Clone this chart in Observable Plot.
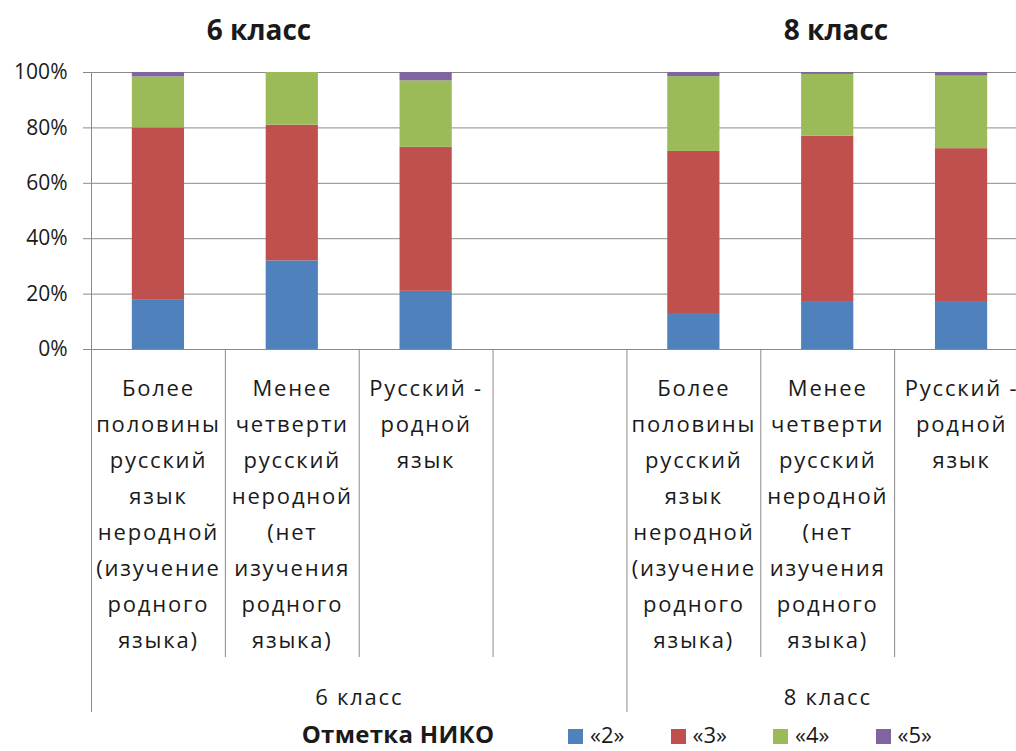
<!DOCTYPE html>
<html>
<head>
<meta charset="utf-8">
<script src="https://cdn.jsdelivr.net/npm/d3@7"></script>
<script src="https://cdn.jsdelivr.net/npm/@observablehq/plot@0.6"></script>
<style>
  html, body { margin: 0; padding: 0; background: #fff; overflow: hidden; }
  #wrap { position: relative; width: 1016px; height: 751px; overflow: hidden; font-family: "Open Sans", sans-serif; color: #1a1a1a; }
  #chart { position: absolute; left: 0; top: 0; width: 1040px; }
  #chart svg { max-width: none !important; }
  #chart svg g[aria-label="text"] text { letter-spacing: 1.8px; }
  .title { position: absolute; top: 15px; line-height: 1; font-weight: 700; font-size: 28px; transform: translateX(-50%); white-space: nowrap; }
  .ltitle { position: absolute; left: 398px; top: 722px; line-height: 1; transform: translateX(-50%); font-weight: 700; font-size: 24px; letter-spacing: 0.3px; white-space: nowrap; }
  .item { position: absolute; top: 723px; line-height: 1; font-size: 22px; white-space: nowrap; }
  .sw { display: inline-block; width: 15px; height: 15px; vertical-align: -1px; margin-right: 7px; }
</style>
</head>
<body>
<div id="wrap">
  <div id="chart"></div>
  <div class="title" style="left:259px">6 класс</div>
  <div class="title" style="left:836px">8 класс</div>
</div>
<script>
// ---- data ----
const groups = ["6 класс", "8 класс"];
const categories = [
  "Более\nполовины\nрусский\nязык\nнеродной\n(изучение\nродного\nязыка)",
  "Менее\nчетверти\nрусский\nнеродной\n(нет\nизучения\nродного\nязыка)",
  "Русский -\nродной\nязык"
];
const grades = ["«2»", "«3»", "«4»", "«5»"];
const colors = ["#4F81BD", "#C0504D", "#9BBB59", "#8064A2"];
// per bar: 6 класс (3 categories), 8 класс (3 categories), in %
const barGroup = [0, 0, 0, 1, 1, 1];
const barCategory = [0, 1, 2, 0, 1, 2];
const grade2 = [18, 32, 21, 13, 17, 17];
const grade3 = [62, 49, 52, 58.5, 60, 55.5];
const grade4 = [18.4, 19, 24, 27, 22.3, 26.2];
const grade5 = [1.6, 0, 3, 1.5, 0.7, 1.3];
const yTicks = [0, 20, 40, 60, 80, 100];
// slots per group: 6 класс has an empty 4th slot
const groupSlots = [4, 3];
const legendTitle = "Отметка НИКО";

// ---- derived ----
const groupStart = [0, groupSlots[0]];
const totalSlots = groupSlots[0] + groupSlots[1];
const seriesVals = [grade2, grade3, grade4, grade5];
const barSlot = barGroup.map((g, i) => groupStart[g] + barCategory[i]);
const rects = [];
barSlot.forEach((slot, i) => {
  let acc = 0;
  seriesVals.forEach((vals, s) => {
    const v = vals[i];
    rects.push({slot, grade: grades[s], y1: acc, y2: acc + v});
    acc += v;
  });
});
const labels = barSlot.map((slot, i) => ({slot, text: categories[barCategory[i]]}));
const groupLabels = groups.map((g, i) => ({x: groupStart[i] + groupSlots[i] / 2, text: g}));
const innerSeps = [];
groups.forEach((g, i) => { for (let k = 1; k < groupSlots[i]; k++) innerSeps.push(groupStart[i] + k); });
const groupSeps = [0, groupStart[1], totalSlots];

const barHalf = 0.195; // bar half-width in slot units
const sepInner = -111.2; // extent below baseline, in y units
const sepGroup = -131;
const gray = "#8a8a8a";

const chart = Plot.plot({
  width: 1040,
  height: 751,
  marginLeft: 91,
  marginRight: 12,
  marginTop: 72,
  marginBottom: 402,
  style: {fontFamily: "'Open Sans', sans-serif", color: "#1a1a1a", background: "#fff", overflow: "visible", maxWidth: "none"},
  x: {domain: [0, totalSlots], axis: null},
  y: {domain: [0, 100]},
  color: {domain: grades, range: colors},
  marks: [
    Plot.gridY(yTicks, {stroke: gray, strokeOpacity: 1, strokeWidth: 1}),
    Plot.axisY(yTicks, {tickSize: 8, tickPadding: 16, tickFormat: d => d + "%", fontSize: 21, stroke: gray, strokeOpacity: 1, fill: "#1a1a1a", label: null}),
    Plot.ruleX([0], {y1: 0, y2: 100, stroke: gray}),
    Plot.ruleX(innerSeps, {x: d => d, y1: 0, y2: sepInner, stroke: gray}),
    Plot.ruleX(groupSeps, {x: d => d, y1: 0, y2: sepGroup, stroke: gray}),
    Plot.rect(rects, {x1: d => d.slot + 0.5 - barHalf, x2: d => d.slot + 0.5 + barHalf, y1: "y1", y2: "y2", fill: "grade"}),
    Plot.text(labels, {x: d => d.slot + 0.5, frameAnchor: "bottom", dy: 21, lineAnchor: "top", text: "text", fontSize: 22, lineHeight: 1.636, fill: "#1a1a1a"}),
    Plot.text(groupLabels, {x: "x", frameAnchor: "bottom", dy: 348, lineAnchor: "middle", text: "text", fontSize: 22, fill: "#1a1a1a"})
  ]
});
document.getElementById("chart").appendChild(chart);

// legend
const wrap = document.getElementById("wrap");
const lt = document.createElement("div");
lt.className = "ltitle";
lt.textContent = legendTitle;
wrap.appendChild(lt);
grades.forEach((g, i) => {
  const it = document.createElement("div");
  it.className = "item";
  it.style.left = (568 + i * 102.5) + "px";
  it.innerHTML = `<span class="sw" style="background:${colors[i]}"></span>${g}`;
  wrap.appendChild(it);
});
</script>
</body>
</html>
